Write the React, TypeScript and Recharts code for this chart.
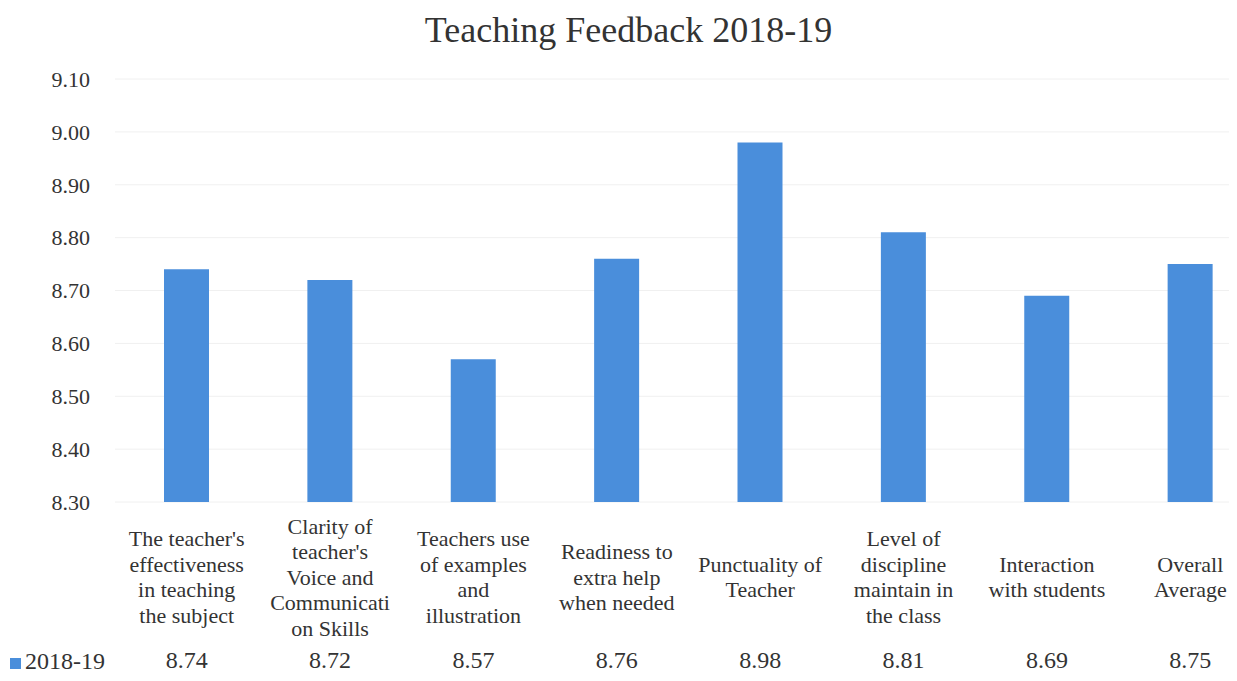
import React from 'react';
import { BarChart, Bar, XAxis, YAxis, CartesianGrid, Legend } from 'recharts';

const categories = [
  "The teacher's\neffectiveness\nin teaching\nthe subject",
  "Clarity of\nteacher's\nVoice and\nCommunicati\non Skills",
  'Teachers use\nof examples\nand\nillustration',
  'Readiness to\nextra help\nwhen needed',
  'Punctuality of\nTeacher',
  'Level of\ndiscipline\nmaintain in\nthe class',
  'Interaction\nwith students',
  'Overall\nAverage',
];
const scores = [8.74, 8.72, 8.57, 8.76, 8.98, 8.81, 8.69, 8.75];
const yTicks = [8.3, 8.4, 8.5, 8.6, 8.7, 8.8, 8.9, 9.0, 9.1];
const seriesName = '2018-19';

const data = categories.map((name, i) => ({ name, value: scores[i] }));

const FONT = '"Liberation Serif", "Times New Roman", serif';
const TEXT = '#333333';
const BAR = '#4A8EDB';

const CategoryTick = (props: any) => {
  const { x, y, payload, index } = props;
  const lines: string[] = String(payload.value).split('\n');
  const lh = 25.5;
  const mid = y + 75;
  const start = mid - ((lines.length - 1) * lh) / 2;
  return (
    <g>
      {lines.map((ln, i) => (
        <text
          key={i}
          x={x}
          y={start + i * lh}
          textAnchor="middle"
          dominantBaseline="central"
          fill={TEXT}
          fontSize={22}
          fontFamily={FONT}
        >
          {ln}
        </text>
      ))}
      <text
        x={x}
        y={y + 158}
        textAnchor="middle"
        dominantBaseline="central"
        fill={TEXT}
        fontSize={24}
        fontFamily={FONT}
      >
        {scores[index].toFixed(2)}
      </text>
    </g>
  );
};

export default function App() {
  return (
    <div style={{ margin: -8, width: 1237, height: 681, overflow: 'hidden', position: 'relative', background: '#fff' }}>
      <div
        style={{
          position: 'absolute',
          top: 8,
          left: 0,
          width: 1257,
          textAlign: 'center',
          fontFamily: FONT,
          fontSize: 36,
          color: TEXT,
          lineHeight: '44px',
        }}
      >
        Teaching Feedback 2018-19
      </div>
      <BarChart
        width={1270}
        height={681}
        data={data}
        margin={{ top: 79, right: 8, bottom: 18, left: 0 }}
      >
        <CartesianGrid vertical={false} stroke="#f0f0f0" />
        <XAxis
          dataKey="name"
          interval={0}
          axisLine={false}
          tickLine={false}
          tickSize={0}
          tickMargin={0}
          height={134}
          tick={<CategoryTick />}
        />
        <YAxis
          domain={[8.3, 9.1]}
          ticks={yTicks}
          allowDataOverflow
          width={115}
          axisLine={false}
          tickLine={false}
          tickSize={0}
          tickMargin={25}
          tickFormatter={(v: number) => v.toFixed(2)}
          tick={{ fill: TEXT, fontSize: 22, fontFamily: FONT }}
        />
        <Legend
          iconType="square"
          iconSize={11}
          wrapperStyle={{ position: 'absolute', left: 10, top: 648, width: 'auto', fontFamily: FONT, fontSize: 24 }}
          formatter={(v: string) => <span style={{ color: TEXT }}>{v}</span>}
        />
        <Bar dataKey="value" name={seriesName} fill={BAR} barSize={45} isAnimationActive={false} />
      </BarChart>
    </div>
  );
}
